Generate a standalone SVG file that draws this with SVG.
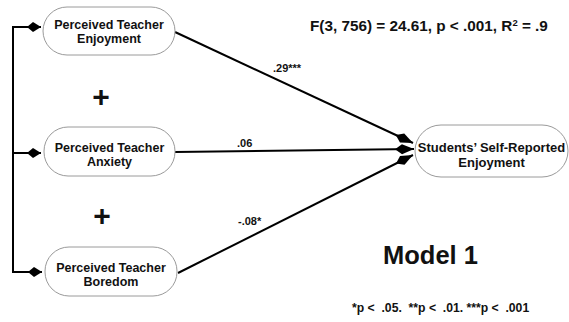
<svg xmlns="http://www.w3.org/2000/svg" width="569" height="322" viewBox="0 0 569 322">
<style>
.node{fill:#fff;stroke:#9a9a9a;stroke-width:1}
.nt{font-family:"Liberation Sans",Arial,sans-serif;font-weight:bold;font-size:12.5px;fill:#111;text-anchor:middle}
.lbl{font-family:"Liberation Sans",Arial,sans-serif;font-weight:bold;font-size:11px;fill:#111}
.conn{stroke:#000;stroke-width:2;fill:none}
.big{font-family:"Liberation Sans",Arial,sans-serif;font-weight:bold;fill:#111}
</style>
<defs>
<marker id="dia" markerUnits="userSpaceOnUse" markerWidth="20" markerHeight="12" viewBox="0 -6 19 12" refX="19" refY="0" orient="auto">
<path d="M0,0 L7,-5 L19,0 L7,5 Z" fill="#000"/>
</marker>
<marker id="dia2" markerUnits="userSpaceOnUse" markerWidth="16" markerHeight="12" viewBox="0 -6 14 12" refX="14" refY="0" orient="auto">
<path d="M0,0 L6,-5 L14,0 L6,5 Z" fill="#000"/>
</marker>
</defs>
<g id="connectors">
<path class="conn" d="M13,26 L13,273"/>
<path class="conn" d="M12,27 L41,27" marker-end="url(#dia2)"/>
<path class="conn" d="M12,153 L41,153" marker-end="url(#dia2)"/>
<path class="conn" d="M12,272 L42,272" marker-end="url(#dia2)"/>
<path class="conn" d="M175,32 L413,143" marker-end="url(#dia)"/>
<path class="conn" d="M175,152 L414,149" stroke-width="2.5" marker-end="url(#dia)"/>
<path class="conn" d="M178,273 L413,155" marker-end="url(#dia)"/>
<text class="lbl" x="273" y="72">.29***</text>
<text class="lbl" x="237" y="147">.06</text>
<text class="lbl" x="238" y="225">-.08*</text>
</g>
<g id="n1">
<rect class="node" x="43" y="7" width="132" height="48" rx="24"/>
<text class="nt" x="109" y="29">Perceived Teacher</text>
<text class="nt" x="109" y="43">Enjoyment</text>
</g>
<g id="n2">
<rect class="node" x="44" y="127" width="131" height="49" rx="24"/>
<text class="nt" x="109.5" y="152">Perceived Teacher</text>
<text class="nt" x="109.5" y="166">Anxiety</text>
</g>
<g id="n3">
<rect class="node" x="45" y="247" width="132" height="49" rx="24"/>
<text class="nt" x="111" y="272">Perceived Teacher</text>
<text class="nt" x="111" y="286">Boredom</text>
</g>
<g id="target">
<rect class="node" x="415" y="125" width="153" height="52" rx="26"/>
<text class="nt" x="491.5" y="152" style="font-size:13px">Students’ Self-Reported</text>
<text class="nt" x="491.5" y="167" style="font-size:13px">Enjoyment</text>
</g>
<text class="big" x="101" y="107" font-size="30" text-anchor="middle">+</text>
<text class="big" x="102" y="226" font-size="30" text-anchor="middle">+</text>
<text class="big" x="310" y="31" font-size="15.3">F(3, 756) = 24.61, p &lt; .001, R<tspan font-size="9.5" dy="-5.5">2</tspan><tspan dy="5.5"> = .9</tspan></text>
<text class="big" x="383" y="264" font-size="25.5">Model 1</text>
<text class="big" x="352" y="312" font-size="12.2" xml:space="preserve">*p &lt;  .05.  **p &lt;  .01. ***p &lt;  .001</text>
</svg>
